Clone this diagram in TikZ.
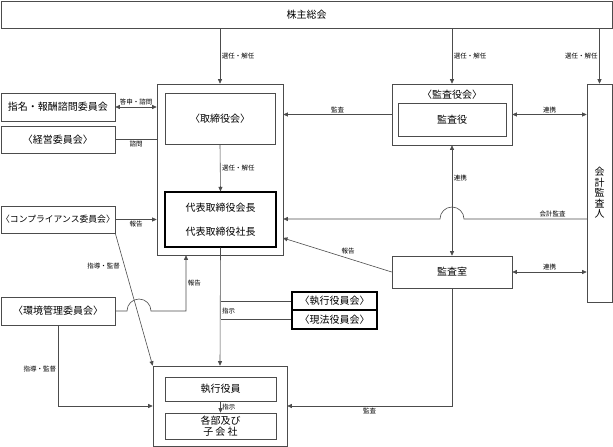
\documentclass[tikz,border=0pt]{standalone}
\usepackage{fontspec}
\setmainfont{Noto Sans CJK JP}
\usetikzlibrary{arrows.meta}
\tikzset{
  org/.style={rectangle, draw=black!70, line width=0.6pt, inner sep=0pt, align=center,
    font=\fontsize{10}{12}\selectfont},
  orgthick/.style={org, draw=black, line width=1.2pt},
  tie/.style={draw=black!70, line width=0.6pt},
  link/.style={tie, -{Triangle[length=4.5pt,width=4pt]}},
  twoway/.style={tie, {Triangle[length=4.5pt,width=4pt]}-{Triangle[length=4.5pt,width=4pt]}},
  note/.style={font=\fontsize{6.5}{7}\selectfont, inner sep=1.5pt}
}
\begin{document}
\begin{tikzpicture}[x=1pt,y=-1pt]
  \useasboundingbox (0,0) rectangle (613,447);

  % top
  \node[org, minimum width=611pt, minimum height=27pt] (soukai) at (306.5,14.5) {株主総会};

  % board of directors
  \node[org, minimum width=126pt, minimum height=171pt] (board) at (220,169.5) {};
  \node[org, minimum width=110pt, minimum height=51pt] (torikai) at (220,118.5) {〈取締役会〉};
  \node[orgthick, minimum width=111pt, minimum height=55pt,
        font=\fontsize{10}{24}\selectfont] (daihyo) at (220.5,219.5) {代表取締役会長\\代表取締役社長};

  % committees
  \node[org, minimum width=114pt, minimum height=28pt] (shimei) at (58,107) {指名・報酬諮問委員会};
  \node[org, minimum width=114pt, minimum height=27pt] (keiei) at (58,139.5) {〈経営委員会〉};
  \node[org, minimum width=114pt, minimum height=27pt,
        font=\fontsize{8.8}{10}\selectfont] (comp) at (58,219.5) {〈コンプライアンス委員会〉};
  \node[org, minimum width=114pt, minimum height=28pt] (kankyo) at (58,311) {〈環境管理委員会〉};

  % executives
  \node[org, minimum width=134pt, minimum height=80pt] (shikko) at (220,406) {};
  \node[org, minimum width=111pt, minimum height=24pt] (yakuin) at (220.5,389) {執行役員};
  \node[org, minimum width=111pt, minimum height=26pt,
        font=\fontsize{10}{11}\selectfont] (kakubu) at (220.5,426) {各部及び\\子 会 社};
  \node[orgthick, minimum width=85pt, minimum height=18pt] (shikkokai) at (334.5,301) {〈執行役員会〉};
  \node[orgthick, minimum width=85pt, minimum height=19pt] (genpo) at (334.5,319.5) {〈現法役員会〉};

  % auditors
  \node[org, minimum width=120pt, minimum height=61pt] (kansakai) at (452,114.5) {};
  \node[org, draw=none] (kansatitle) at (452,95) {〈監査役会〉};
  \node[org, minimum width=108pt, minimum height=33pt] (kansayaku) at (452,119.5) {監査役};
  \node[org, minimum width=120pt, minimum height=32pt] (kansashitsu) at (452,272) {監査室};
  \node[org, minimum width=25pt, minimum height=218pt,
        font=\fontsize{10}{10.5}\selectfont] (kaikei) at (599.5,193) {会\\計\\監\\査\\人};

  % from the shareholders
  \draw[link] (soukai.south -| board.north) -- node[note, right] {選任・解任} (board.north);
  \draw[link] (soukai.south -| kansakai.north) -- node[note, right] {選任・解任} (kansakai.north);
  \draw[link] (soukai.south -| kaikei.north) -- node[note, left] {選任・解任} (kaikei.north);

  % committees to the board
  \draw[twoway] (shimei.east) -- node[note, above] {答申・諮問} (shimei.east -| board.west);
  \draw[tie] (keiei.east) -- node[note, below] {諮問} (keiei.east -| board.west);
  \draw[link] (comp.east) -- node[note, below] {報告} (comp.east -| board.west);
  \draw[link] (comp.south east) -- node[note, left, pos=0.25, xshift=-3pt] {指導・監督} (shikko.north west);

  \coordinate (envup) at (186,311);
  \draw[link] (kankyo.east) -- (127,311) arc[start angle=180, end angle=0, radius=12pt]
    -- (envup) -- node[note, right] {報告} (envup |- board.south);
  \draw[link] (kankyo.south) |- node[note, left, pos=0.27] {指導・監督} (shikko.west);

  % inside the board
  \draw[link] (torikai.south) -- node[note, right] {選任・解任} (daihyo.north);
  \draw[link] (daihyo.south) -- node[note, right, pos=0.54] {指示} (shikko.north);
  \draw[tie] (shikkokai.west -| daihyo.south) -- (shikkokai.west);
  \draw[tie] (genpo.west -| daihyo.south) -- (genpo.west);
  \draw[link] (yakuin.south) -- node[note, right] {指示} (kakubu.north);

  % auditors
  \draw[link] (kansakai.west) -- node[note, above] {監査} (kansakai.west -| board.east);
  \draw[twoway] (kansakai.east) -- node[note, above] {連携} (kansakai.east -| kaikei.west);
  \draw[twoway] (kansakai.south) -- node[note, right, pos=0.3] {連携} (kansashitsu.north);

  \coordinate (kaiout) at (587,219);
  \draw[link] (kaiout) -- node[note, above, pos=0.28] {会計監査} (464,219)
    arc[start angle=0, end angle=180, radius=12pt] -- (kaiout -| board.east);

  \coordinate (rptin) at (283,238);
  \draw[link] (kansashitsu.west) -- node[note, above=3pt, pos=0.4] {報告} (rptin);
  \draw[twoway] (kansashitsu.east) -- node[note, above] {連携} (kansashitsu.east -| kaikei.west);
  \draw[link] (kansashitsu.south) |- node[note, below, pos=0.75] {監査} (shikko.east);
\end{tikzpicture}
\end{document}
